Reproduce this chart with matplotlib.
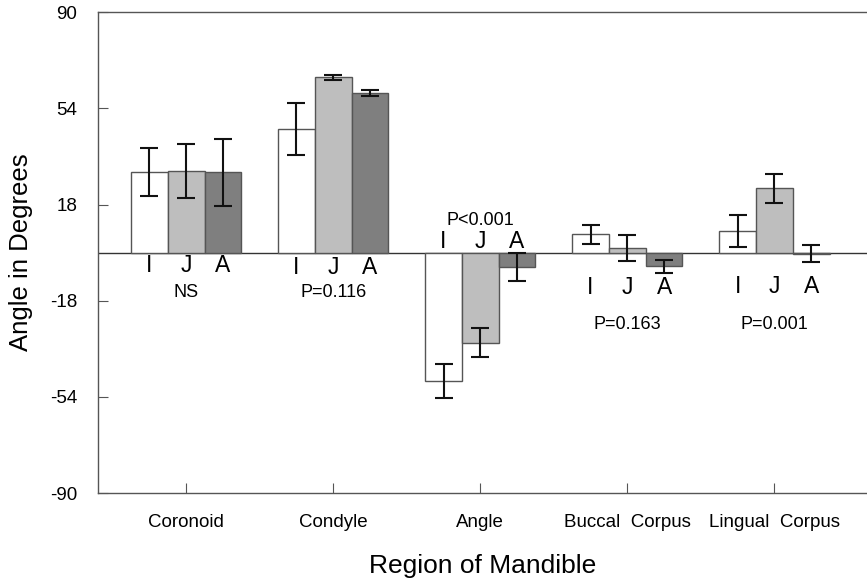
import matplotlib.pyplot as plt
import numpy as np

plt.rcParams['font.family'] = ['Liberation Sans', 'DejaVu Sans']
plt.rcParams['axes.unicode_minus'] = False

# Mean angles (degrees) and error bars for each region and group
regions = ['Coronoid', 'Condyle', 'Angle', 'Buccal  Corpus', 'Lingual  Corpus']
groups = ['I', 'J', 'A']
means_I = [30.0, 46.3, -48.1, 6.8, 8.2]
means_J = [30.5, 65.6, -33.8, 1.7, 24.0]
means_A = [30.0, 59.7, -5.3, -5.1, -0.4]
err_I = [9.0, 9.8, 6.5, 3.6, 6.0]
err_J = [10.2, 0.9, 5.4, 4.9, 5.6]
err_A = [12.7, 1.2, 5.2, 2.4, 3.2]
p_labels = ['NS', 'P=0.116', 'P<0.001', 'P=0.163', 'P=0.001']

# text positions (data units) for group letters and p values
letter_y = [-5.0, -5.5, 4.0, -13.0, -12.6]
p_y = [-14.8, -14.8, 11.9, -26.8, -26.8]

colors = ['white', '#bebebe', '#7f7f7f']
edge = '#555555'

fig = plt.figure(figsize=(8.67, 5.79), dpi=100)
ax = fig.add_axes([0.113, 0.1485, 0.887, 0.8305])

x = np.arange(len(regions))
w = 0.25
for k, (m, e) in enumerate(zip([means_I, means_J, means_A], [err_I, err_J, err_A])):
    pos = x + (k - 1) * w
    ax.bar(pos, m, w, color=colors[k], edgecolor=edge, linewidth=1.0, zorder=2)
    ax.errorbar(pos, m, yerr=e, fmt='none', ecolor='#111111', elinewidth=1.5,
                capsize=6.5, capthick=1.5, zorder=3)
    for i in range(len(regions)):
        ax.text(pos[i], letter_y[i], groups[k], ha='center', va='center',
                fontsize=16.5)

for i in range(len(regions)):
    ax.text(x[i], p_y[i], p_labels[i], ha='center', va='center', fontsize=13)

ax.axhline(0, color='#333333', linewidth=1.0, zorder=1)

ax.set_xlim(-0.6, 4.63)
ax.set_ylim(-90, 90)
ax.set_yticks([-90, -54, -18, 18, 54, 90])
ax.set_xticks(x)
ax.set_xticklabels(regions)
ax.tick_params(axis='both', direction='in', length=7, color=edge, labelsize=13.5)
ax.tick_params(axis='x', pad=15)
ax.tick_params(axis='y', pad=15)

for s in ['left', 'bottom', 'top']:
    ax.spines[s].set_color(edge)
    ax.spines[s].set_linewidth(1.0)
ax.spines['right'].set_visible(False)

ax.set_ylabel('Angle in Degrees', fontsize=18.5, labelpad=12)
ax.set_xlabel('Region of Mandible', fontsize=19, labelpad=17)

plt.savefig('out.png', dpi=100, facecolor='white')
